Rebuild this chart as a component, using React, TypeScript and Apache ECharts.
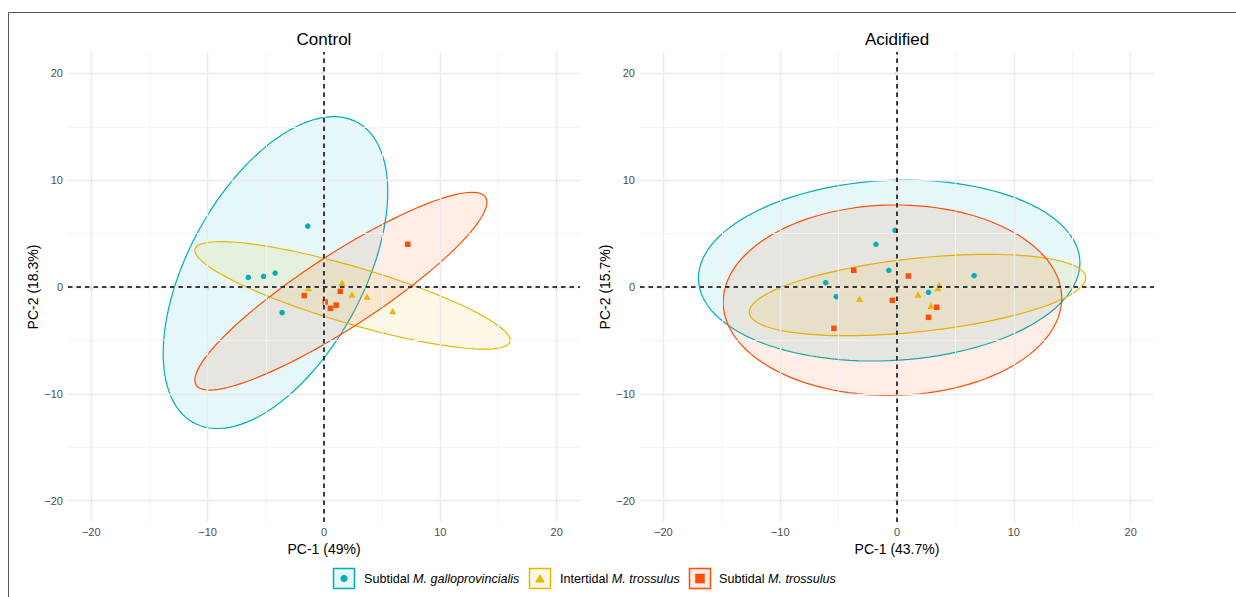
import React, { useEffect, useRef } from 'react';
import * as echarts from 'echarts';

// ---------- data ----------
const COLORS = ['#00AFBB', '#E7B800', '#FC4E07'];
const SYMBOLS = ['circle', 'triangle', 'rect'];
const SYMBOL_SIZES: any[] = [5.5, [7, 6.5], 5.5];
const groupNames = ['Subtidal M. galloprovincialis', 'Intertidal M. trossulus', 'Subtidal M. trossulus'];
const legendPrefix = ['Subtidal ', 'Intertidal ', 'Subtidal '];
const legendItalic = ['M. galloprovincialis', 'M. trossulus', 'M. trossulus'];
const panelTitles = ['Control', 'Acidified'];
const xTitles = ['PC-1 (49%)', 'PC-1 (43.7%)'];
const yTitles = ['PC-2 (18.3%)', 'PC-2 (15.7%)'];
const majorTicks = [-20, -10, 0, 10, 20];
const minorTicks = [-15, -5, 5, 15];

// Control panel points [PC1, PC2]
const controlGallo = [[-1.4, 5.7], [-6.5, 0.9], [-5.2, 1.0], [-4.2, 1.3], [-3.6, -2.4]];
const controlInter = [[1.55, 0.4], [-1.35, -0.1], [2.4, -0.7], [3.7, -0.9], [5.9, -2.25]];
const controlSubTross = [[7.2, 4.0], [1.4, -0.4], [-1.7, -0.8], [0.1, -1.4], [0.55, -2.0], [1.05, -1.7]];
// Acidified panel points
const acidGallo = [[-0.17, 5.3], [-1.8, 4.0], [-0.7, 1.56], [-6.1, 0.4], [-5.2, -0.9], [2.7, -0.5], [6.6, 1.06]];
const acidInter = [[-3.2, -1.1], [1.8, -0.7], [3.6, 0.2], [3.5, -0.1], [2.9, -1.75]];
const acidSubTross = [[-3.7, 1.56], [0.97, 1.03], [-0.4, -1.25], [3.4, -1.9], [2.7, -2.84], [-5.4, -3.87]];

// Confidence ellipses: [centerX, centerY, halfExtentX, halfExtentY, correlation]
const controlEllGallo = [-4.17, 1.35, 9.65, 14.6, 0.518];
const controlEllInter = [2.45, -0.785, 13.55, 5.03, -0.836];
const controlEllSubTross = [1.45, -0.39, 12.55, 9.26, 0.899];
const acidEllGallo = [-0.67, 1.54, 16.33, 8.47, 0.085];
const acidEllInter = [1.755, -0.75, 14.4, 3.81, 0.42];
const acidEllSubTross = [-0.39, -1.235, 14.49, 8.915, 0.02];

const panelPoints = [
  [controlGallo, controlInter, controlSubTross],
  [acidGallo, acidInter, acidSubTross],
];
const panelEllipses = [
  [controlEllGallo, controlEllInter, controlEllSubTross],
  [acidEllGallo, acidEllInter, acidEllSubTross],
];

// ---------- layout ----------
const GRIDS = [
  { left: 68, top: 52, width: 512, height: 470 },
  { left: 640, top: 52, width: 514, height: 470 },
];
const FONT = '"Liberation Sans", Arial, Helvetica, sans-serif';

function hexToRgba(hex: string, a: number) {
  const n = parseInt(hex.slice(1), 16);
  return `rgba(${(n >> 16) & 255},${(n >> 8) & 255},${n & 255},${a})`;
}

const fmt = (v: number) => (v < 0 ? '\u2212' + Math.abs(v) : String(v));

function buildOption() {
  const series: any[] = [];
  const xAxes: any[] = [];
  const yAxes: any[] = [];
  const graphics: any[] = [];

  GRIDS.forEach((g, p) => {
    xAxes.push({
      gridIndex: p,
      type: 'value',
      min: -22,
      max: 22,
      axisLine: { show: false },
      splitLine: { show: false },
      axisTick: { show: true, length: 3, customValues: majorTicks, lineStyle: { color: '#222', width: 1.3 } },
      axisLabel: { customValues: majorTicks, formatter: fmt, color: '#4D4D4D', fontSize: 11, margin: 4, fontFamily: FONT },
      name: xTitles[p],
      nameLocation: 'middle',
      nameGap: 19,
      nameTextStyle: { color: '#000', fontSize: 14, fontFamily: FONT },
    });
    yAxes.push({
      gridIndex: p,
      type: 'value',
      min: -22,
      max: 22,
      axisLine: { show: false },
      splitLine: { show: false },
      axisTick: { show: true, length: 3, customValues: majorTicks, lineStyle: { color: '#222', width: 1.3 } },
      axisLabel: { customValues: majorTicks, formatter: fmt, color: '#4D4D4D', fontSize: 11, margin: 5, fontFamily: FONT },
      name: yTitles[p],
      nameLocation: 'middle',
      nameGap: 28,
      nameTextStyle: { color: '#000', fontSize: 14, fontFamily: FONT },
    });

    const major = { color: '#EBEBEB', width: 1.4, type: 'solid' };
    const minor = { color: '#F4F4F4', width: 0.9, type: 'solid' };
    series.push({
      type: 'line',
      xAxisIndex: p,
      yAxisIndex: p,
      data: [],
      z: 0,
      silent: true,
      markLine: {
        silent: true,
        symbol: ['none', 'none'],
        label: { show: false },
        animation: false,
        data: [
          ...minorTicks.map((v) => ({ xAxis: v, lineStyle: minor })),
          ...minorTicks.map((v) => ({ yAxis: v, lineStyle: minor })),
          ...majorTicks.map((v) => ({ xAxis: v, lineStyle: major })),
          ...majorTicks.map((v) => ({ yAxis: v, lineStyle: major })),
        ],
      },
    });

    panelEllipses[p].forEach((e, k) => {
      series.push({
        type: 'custom',
        xAxisIndex: p,
        yAxisIndex: p,
        z: 2,
        silent: true,
        data: [[e[0], e[1]]],
        renderItem: (_params: any, api: any) => {
          const [cx, cy, sx, sy, r] = e;
          const pts: number[][] = [];
          const N = 120;
          for (let i = 0; i < N; i++) {
            const t = (2 * Math.PI * i) / N;
            const x = cx + sx * Math.cos(t);
            const y = cy + r * sy * Math.cos(t) + sy * Math.sqrt(1 - r * r) * Math.sin(t);
            pts.push(api.coord([x, y]));
          }
          return {
            type: 'polygon',
            shape: { points: pts },
            style: { fill: hexToRgba(COLORS[k], 0.1), stroke: COLORS[k], lineWidth: 1.2 },
          };
        },
      });
    });

    panelPoints[p].forEach((pts, k) => {
      series.push({
        type: 'scatter',
        name: groupNames[k],
        xAxisIndex: p,
        yAxisIndex: p,
        z: 3,
        symbol: SYMBOLS[k],
        symbolSize: SYMBOL_SIZES[k],
        itemStyle: { color: COLORS[k], opacity: 1 },
        data: pts,
      });
    });

    series.push({
      type: 'line',
      xAxisIndex: p,
      yAxisIndex: p,
      data: [],
      z: 4,
      silent: true,
      markLine: {
        silent: true,
        symbol: ['none', 'none'],
        label: { show: false },
        animation: false,
        lineStyle: { color: '#000', width: 1.5, type: [4.5, 4] },
        data: [{ xAxis: 0 }, { yAxis: 0 }],
      },
    });

    graphics.push({
      type: 'text',
      x: g.left + g.width / 2,
      y: 39,
      style: { text: panelTitles[p], fill: '#000', fontSize: 17, fontFamily: FONT, align: 'center', verticalAlign: 'middle' },
    });
  });

  // legend (drawn keys)
  const legendBoxX = [333, 529, 689];
  const legendTextX = [364, 560, 719];
  const LY = 578.5;
  groupNames.forEach((_n, k) => {
    const bx = legendBoxX[k];
    graphics.push({
      type: 'rect',
      shape: { x: bx + 0.5, y: LY - 10, width: 21, height: 20 },
      style: { fill: hexToRgba(COLORS[k], 0.1), stroke: COLORS[k], lineWidth: 1.5 },
    });
    const cx = bx + 11;
    if (k === 0) {
      graphics.push({ type: 'circle', shape: { cx, cy: LY, r: 3.6 }, style: { fill: COLORS[k] } });
    } else if (k === 1) {
      graphics.push({
        type: 'polygon',
        shape: { points: [[cx, LY - 4.5], [cx + 5, LY + 4], [cx - 5, LY + 4]] },
        style: { fill: COLORS[k] },
      });
    } else {
      graphics.push({ type: 'rect', shape: { x: cx - 4.8, y: LY - 4.8, width: 9.6, height: 9.6 }, style: { fill: COLORS[k] } });
    }
    graphics.push({
      type: 'text',
      x: legendTextX[k],
      y: LY,
      style: {
        text: `{n|${legendPrefix[k]}}{i|${legendItalic[k]}}`,
        verticalAlign: 'middle',
        rich: {
          n: { fontSize: 12.6, fontFamily: FONT, fill: '#000', color: '#000' },
          i: { fontSize: 12.6, fontFamily: FONT, fontStyle: 'italic', fill: '#000', color: '#000' },
        },
      },
    });
  });

  graphics.push({
    type: 'rect',
    silent: true,
    z: -10,
    shape: { x: 8.5, y: 12.5, width: 1400, height: 800 },
    style: { fill: 'none', stroke: '#555', lineWidth: 1 },
  });

  return {
    animation: false,
    backgroundColor: '#fff',
    textStyle: { fontFamily: FONT },
    grid: GRIDS.map((g) => ({ ...g, containLabel: false })),
    xAxis: xAxes,
    yAxis: yAxes,
    series,
    graphic: graphics,
  };
}

export default function App() {
  const ref = useRef<HTMLDivElement>(null);
  useEffect(() => {
    document.body.style.margin = '0';
    if (!ref.current) return;
    const chart = echarts.init(ref.current, undefined, { renderer: 'svg' });
    chart.setOption(buildOption() as any);
    return () => chart.dispose();
  }, []);
  return <div ref={ref} style={{ width: 1236, height: 597 }} />;
}
